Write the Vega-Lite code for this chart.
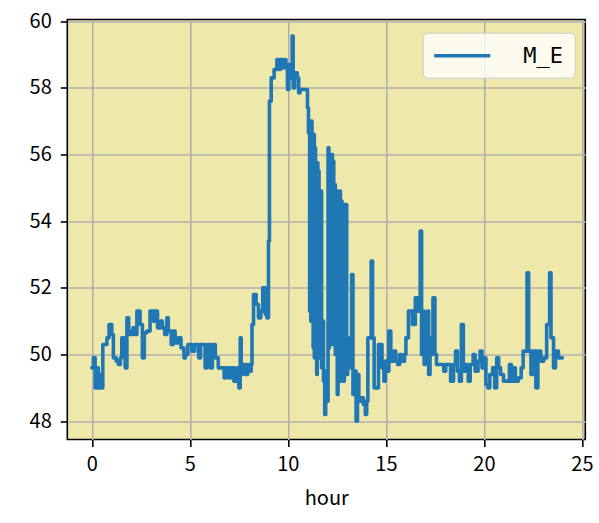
{
  "$schema": "https://vega.github.io/schema/vega-lite/v6.json",
  "width": 518,
  "height": 420,
  "autosize": "none",
  "padding": {"left": 67.3, "top": 19.5, "right": 14, "bottom": 84},
  "background": "white",
  "config": {
    "view": {"fill": "#EEE8AA", "stroke": "black", "strokeWidth": 1.6},
    "axis": {
      "domain": false,
      "grid": true,
      "gridColor": "#b0b0b0",
      "gridWidth": 1.6,
      "tickColor": "black",
      "tickWidth": 1.6,
      "tickSize": 7,
      "labelFont": "Noto Sans CJK JP",
      "labelFontSize": 20,
      "labelColor": "black",
      "titleFont": "Noto Sans CJK JP",
      "titleFontSize": 20,
      "titleFontWeight": "normal",
      "titleColor": "black"
    }
  },
  "data": {
    "values": [
      {"hour": 0.00, "value": 49.6, "series": "M_E"},
      {"hour": 0.08, "value": 49.9, "series": "M_E"},
      {"hour": 0.17, "value": 49.0, "series": "M_E"},
      {"hour": 0.28, "value": 49.6, "series": "M_E"},
      {"hour": 0.33, "value": 49.0, "series": "M_E"},
      {"hour": 0.42, "value": 49.4, "series": "M_E"},
      {"hour": 0.47, "value": 49.0, "series": "M_E"},
      {"hour": 0.56, "value": 50.3, "series": "M_E"},
      {"hour": 0.77, "value": 50.5, "series": "M_E"},
      {"hour": 0.88, "value": 50.9, "series": "M_E"},
      {"hour": 1.02, "value": 50.6, "series": "M_E"},
      {"hour": 1.10, "value": 49.9, "series": "M_E"},
      {"hour": 1.25, "value": 49.8, "series": "M_E"},
      {"hour": 1.36, "value": 49.7, "series": "M_E"},
      {"hour": 1.46, "value": 49.9, "series": "M_E"},
      {"hour": 1.53, "value": 50.5, "series": "M_E"},
      {"hour": 1.65, "value": 50.2, "series": "M_E"},
      {"hour": 1.70, "value": 49.6, "series": "M_E"},
      {"hour": 1.79, "value": 51.1, "series": "M_E"},
      {"hour": 1.88, "value": 50.7, "series": "M_E"},
      {"hour": 1.95, "value": 50.6, "series": "M_E"},
      {"hour": 2.10, "value": 50.8, "series": "M_E"},
      {"hour": 2.20, "value": 50.6, "series": "M_E"},
      {"hour": 2.30, "value": 51.3, "series": "M_E"},
      {"hour": 2.46, "value": 50.9, "series": "M_E"},
      {"hour": 2.58, "value": 49.9, "series": "M_E"},
      {"hour": 2.68, "value": 50.65, "series": "M_E"},
      {"hour": 2.80, "value": 50.7, "series": "M_E"},
      {"hour": 2.97, "value": 51.3, "series": "M_E"},
      {"hour": 3.15, "value": 51.0, "series": "M_E"},
      {"hour": 3.22, "value": 51.3, "series": "M_E"},
      {"hour": 3.35, "value": 50.8, "series": "M_E"},
      {"hour": 3.50, "value": 51.0, "series": "M_E"},
      {"hour": 3.60, "value": 50.8, "series": "M_E"},
      {"hour": 3.72, "value": 50.6, "series": "M_E"},
      {"hour": 3.83, "value": 51.1, "series": "M_E"},
      {"hour": 3.90, "value": 50.7, "series": "M_E"},
      {"hour": 4.05, "value": 50.3, "series": "M_E"},
      {"hour": 4.15, "value": 50.7, "series": "M_E"},
      {"hour": 4.25, "value": 50.35, "series": "M_E"},
      {"hour": 4.40, "value": 50.5, "series": "M_E"},
      {"hour": 4.55, "value": 50.2, "series": "M_E"},
      {"hour": 4.70, "value": 49.9, "series": "M_E"},
      {"hour": 4.78, "value": 50.0, "series": "M_E"},
      {"hour": 4.90, "value": 50.3, "series": "M_E"},
      {"hour": 5.10, "value": 50.1, "series": "M_E"},
      {"hour": 5.25, "value": 50.3, "series": "M_E"},
      {"hour": 5.45, "value": 49.9, "series": "M_E"},
      {"hour": 5.55, "value": 50.3, "series": "M_E"},
      {"hour": 5.78, "value": 49.6, "series": "M_E"},
      {"hour": 5.88, "value": 50.3, "series": "M_E"},
      {"hour": 6.05, "value": 49.6, "series": "M_E"},
      {"hour": 6.15, "value": 50.3, "series": "M_E"},
      {"hour": 6.30, "value": 49.9, "series": "M_E"},
      {"hour": 6.45, "value": 49.6, "series": "M_E"},
      {"hour": 6.75, "value": 49.3, "series": "M_E"},
      {"hour": 6.85, "value": 49.6, "series": "M_E"},
      {"hour": 7.00, "value": 49.3, "series": "M_E"},
      {"hour": 7.10, "value": 49.6, "series": "M_E"},
      {"hour": 7.25, "value": 49.2, "series": "M_E"},
      {"hour": 7.40, "value": 49.6, "series": "M_E"},
      {"hour": 7.50, "value": 49.0, "series": "M_E"},
      {"hour": 7.57, "value": 50.5, "series": "M_E"},
      {"hour": 7.62, "value": 49.4, "series": "M_E"},
      {"hour": 7.70, "value": 49.7, "series": "M_E"},
      {"hour": 7.85, "value": 49.4, "series": "M_E"},
      {"hour": 7.95, "value": 49.7, "series": "M_E"},
      {"hour": 8.05, "value": 49.5, "series": "M_E"},
      {"hour": 8.13, "value": 49.7, "series": "M_E"},
      {"hour": 8.17, "value": 50.9, "series": "M_E"},
      {"hour": 8.25, "value": 51.8, "series": "M_E"},
      {"hour": 8.38, "value": 51.5, "series": "M_E"},
      {"hour": 8.50, "value": 51.1, "series": "M_E"},
      {"hour": 8.62, "value": 51.3, "series": "M_E"},
      {"hour": 8.72, "value": 52.0, "series": "M_E"},
      {"hour": 8.85, "value": 51.2, "series": "M_E"},
      {"hour": 8.93, "value": 51.1, "series": "M_E"},
      {"hour": 9.01, "value": 53.4, "series": "M_E"},
      {"hour": 9.06, "value": 57.6, "series": "M_E"},
      {"hour": 9.15, "value": 58.3, "series": "M_E"},
      {"hour": 9.30, "value": 58.55, "series": "M_E"},
      {"hour": 9.44, "value": 58.85, "series": "M_E"},
      {"hour": 9.55, "value": 58.55, "series": "M_E"},
      {"hour": 9.62, "value": 58.85, "series": "M_E"},
      {"hour": 9.70, "value": 58.6, "series": "M_E"},
      {"hour": 9.78, "value": 58.85, "series": "M_E"},
      {"hour": 9.90, "value": 58.6, "series": "M_E"},
      {"hour": 9.98, "value": 57.95, "series": "M_E"},
      {"hour": 10.05, "value": 58.7, "series": "M_E"},
      {"hour": 10.15, "value": 58.3, "series": "M_E"},
      {"hour": 10.22, "value": 59.55, "series": "M_E"},
      {"hour": 10.27, "value": 58.0, "series": "M_E"},
      {"hour": 10.35, "value": 58.45, "series": "M_E"},
      {"hour": 10.48, "value": 58.3, "series": "M_E"},
      {"hour": 10.55, "value": 57.85, "series": "M_E"},
      {"hour": 10.62, "value": 57.95, "series": "M_E"},
      {"hour": 11.00, "value": 57.4, "series": "M_E"},
      {"hour": 11.05, "value": 56.65, "series": "M_E"},
      {"hour": 11.08, "value": 57.0, "series": "M_E"},
      {"hour": 11.11, "value": 51.3, "series": "M_E"},
      {"hour": 11.14, "value": 56.8, "series": "M_E"},
      {"hour": 11.17, "value": 51.0, "series": "M_E"},
      {"hour": 11.20, "value": 57.0, "series": "M_E"},
      {"hour": 11.23, "value": 51.2, "series": "M_E"},
      {"hour": 11.26, "value": 56.6, "series": "M_E"},
      {"hour": 11.29, "value": 50.2, "series": "M_E"},
      {"hour": 11.32, "value": 56.6, "series": "M_E"},
      {"hour": 11.35, "value": 49.9, "series": "M_E"},
      {"hour": 11.38, "value": 56.2, "series": "M_E"},
      {"hour": 11.41, "value": 50.5, "series": "M_E"},
      {"hour": 11.44, "value": 55.75, "series": "M_E"},
      {"hour": 11.47, "value": 49.4, "series": "M_E"},
      {"hour": 11.50, "value": 55.75, "series": "M_E"},
      {"hour": 11.53, "value": 50.0, "series": "M_E"},
      {"hour": 11.56, "value": 55.5, "series": "M_E"},
      {"hour": 11.59, "value": 49.9, "series": "M_E"},
      {"hour": 11.62, "value": 54.9, "series": "M_E"},
      {"hour": 11.65, "value": 49.9, "series": "M_E"},
      {"hour": 11.68, "value": 54.9, "series": "M_E"},
      {"hour": 11.72, "value": 49.6, "series": "M_E"},
      {"hour": 11.76, "value": 51.0, "series": "M_E"},
      {"hour": 11.82, "value": 49.2, "series": "M_E"},
      {"hour": 11.88, "value": 48.2, "series": "M_E"},
      {"hour": 11.93, "value": 49.5, "series": "M_E"},
      {"hour": 12.00, "value": 48.6, "series": "M_E"},
      {"hour": 12.05, "value": 56.2, "series": "M_E"},
      {"hour": 12.09, "value": 50.2, "series": "M_E"},
      {"hour": 12.12, "value": 56.0, "series": "M_E"},
      {"hour": 12.15, "value": 50.3, "series": "M_E"},
      {"hour": 12.18, "value": 55.5, "series": "M_E"},
      {"hour": 12.21, "value": 51.0, "series": "M_E"},
      {"hour": 12.24, "value": 56.0, "series": "M_E"},
      {"hour": 12.27, "value": 50.3, "series": "M_E"},
      {"hour": 12.30, "value": 55.8, "series": "M_E"},
      {"hour": 12.34, "value": 50.5, "series": "M_E"},
      {"hour": 12.38, "value": 55.1, "series": "M_E"},
      {"hour": 12.42, "value": 50.0, "series": "M_E"},
      {"hour": 12.46, "value": 54.9, "series": "M_E"},
      {"hour": 12.52, "value": 48.8, "series": "M_E"},
      {"hour": 12.56, "value": 54.9, "series": "M_E"},
      {"hour": 12.60, "value": 49.5, "series": "M_E"},
      {"hour": 12.64, "value": 54.9, "series": "M_E"},
      {"hour": 12.68, "value": 49.2, "series": "M_E"},
      {"hour": 12.72, "value": 54.6, "series": "M_E"},
      {"hour": 12.76, "value": 49.6, "series": "M_E"},
      {"hour": 12.80, "value": 54.5, "series": "M_E"},
      {"hour": 12.84, "value": 49.2, "series": "M_E"},
      {"hour": 12.88, "value": 54.5, "series": "M_E"},
      {"hour": 12.92, "value": 49.8, "series": "M_E"},
      {"hour": 12.96, "value": 54.5, "series": "M_E"},
      {"hour": 13.00, "value": 49.4, "series": "M_E"},
      {"hour": 13.05, "value": 50.5, "series": "M_E"},
      {"hour": 13.10, "value": 49.6, "series": "M_E"},
      {"hour": 13.18, "value": 50.2, "series": "M_E"},
      {"hour": 13.25, "value": 52.4, "series": "M_E"},
      {"hour": 13.32, "value": 48.8, "series": "M_E"},
      {"hour": 13.40, "value": 49.5, "series": "M_E"},
      {"hour": 13.48, "value": 48.0, "series": "M_E"},
      {"hour": 13.55, "value": 49.4, "series": "M_E"},
      {"hour": 13.62, "value": 48.6, "series": "M_E"},
      {"hour": 13.75, "value": 48.7, "series": "M_E"},
      {"hour": 13.85, "value": 48.5, "series": "M_E"},
      {"hour": 13.95, "value": 48.2, "series": "M_E"},
      {"hour": 14.02, "value": 48.6, "series": "M_E"},
      {"hour": 14.08, "value": 50.5, "series": "M_E"},
      {"hour": 14.25, "value": 52.8, "series": "M_E"},
      {"hour": 14.32, "value": 50.5, "series": "M_E"},
      {"hour": 14.40, "value": 49.0, "series": "M_E"},
      {"hour": 14.62, "value": 50.3, "series": "M_E"},
      {"hour": 14.80, "value": 49.6, "series": "M_E"},
      {"hour": 14.90, "value": 49.2, "series": "M_E"},
      {"hour": 14.97, "value": 49.8, "series": "M_E"},
      {"hour": 15.05, "value": 49.5, "series": "M_E"},
      {"hour": 15.15, "value": 50.7, "series": "M_E"},
      {"hour": 15.25, "value": 49.8, "series": "M_E"},
      {"hour": 15.40, "value": 50.1, "series": "M_E"},
      {"hour": 15.50, "value": 49.8, "series": "M_E"},
      {"hour": 15.60, "value": 49.7, "series": "M_E"},
      {"hour": 15.70, "value": 50.0, "series": "M_E"},
      {"hour": 15.80, "value": 49.8, "series": "M_E"},
      {"hour": 15.95, "value": 50.0, "series": "M_E"},
      {"hour": 16.02, "value": 50.5, "series": "M_E"},
      {"hour": 16.15, "value": 51.3, "series": "M_E"},
      {"hour": 16.35, "value": 50.9, "series": "M_E"},
      {"hour": 16.50, "value": 51.7, "series": "M_E"},
      {"hour": 16.62, "value": 51.3, "series": "M_E"},
      {"hour": 16.75, "value": 53.7, "series": "M_E"},
      {"hour": 16.82, "value": 50.0, "series": "M_E"},
      {"hour": 16.88, "value": 51.3, "series": "M_E"},
      {"hour": 16.95, "value": 49.7, "series": "M_E"},
      {"hour": 17.00, "value": 51.0, "series": "M_E"},
      {"hour": 17.07, "value": 50.2, "series": "M_E"},
      {"hour": 17.12, "value": 51.3, "series": "M_E"},
      {"hour": 17.18, "value": 49.4, "series": "M_E"},
      {"hour": 17.25, "value": 50.5, "series": "M_E"},
      {"hour": 17.32, "value": 50.0, "series": "M_E"},
      {"hour": 17.40, "value": 51.7, "series": "M_E"},
      {"hour": 17.50, "value": 50.0, "series": "M_E"},
      {"hour": 17.58, "value": 49.7, "series": "M_E"},
      {"hour": 17.95, "value": 49.5, "series": "M_E"},
      {"hour": 18.05, "value": 49.7, "series": "M_E"},
      {"hour": 18.30, "value": 49.2, "series": "M_E"},
      {"hour": 18.45, "value": 49.7, "series": "M_E"},
      {"hour": 18.55, "value": 50.1, "series": "M_E"},
      {"hour": 18.65, "value": 49.5, "series": "M_E"},
      {"hour": 18.75, "value": 49.2, "series": "M_E"},
      {"hour": 18.85, "value": 50.9, "series": "M_E"},
      {"hour": 18.95, "value": 49.5, "series": "M_E"},
      {"hour": 19.05, "value": 49.7, "series": "M_E"},
      {"hour": 19.20, "value": 49.2, "series": "M_E"},
      {"hour": 19.30, "value": 49.7, "series": "M_E"},
      {"hour": 19.45, "value": 50.0, "series": "M_E"},
      {"hour": 19.55, "value": 49.5, "series": "M_E"},
      {"hour": 19.70, "value": 49.8, "series": "M_E"},
      {"hour": 19.80, "value": 50.1, "series": "M_E"},
      {"hour": 19.90, "value": 49.6, "series": "M_E"},
      {"hour": 20.00, "value": 49.9, "series": "M_E"},
      {"hour": 20.10, "value": 49.1, "series": "M_E"},
      {"hour": 20.20, "value": 49.0, "series": "M_E"},
      {"hour": 20.30, "value": 49.4, "series": "M_E"},
      {"hour": 20.45, "value": 49.6, "series": "M_E"},
      {"hour": 20.55, "value": 49.0, "series": "M_E"},
      {"hour": 20.65, "value": 49.9, "series": "M_E"},
      {"hour": 20.75, "value": 49.6, "series": "M_E"},
      {"hour": 20.85, "value": 49.4, "series": "M_E"},
      {"hour": 21.00, "value": 49.2, "series": "M_E"},
      {"hour": 21.30, "value": 49.7, "series": "M_E"},
      {"hour": 21.40, "value": 49.2, "series": "M_E"},
      {"hour": 21.50, "value": 49.6, "series": "M_E"},
      {"hour": 21.60, "value": 49.2, "series": "M_E"},
      {"hour": 21.75, "value": 49.3, "series": "M_E"},
      {"hour": 21.90, "value": 49.6, "series": "M_E"},
      {"hour": 22.00, "value": 50.1, "series": "M_E"},
      {"hour": 22.20, "value": 52.45, "series": "M_E"},
      {"hour": 22.28, "value": 50.1, "series": "M_E"},
      {"hour": 22.40, "value": 49.4, "series": "M_E"},
      {"hour": 22.50, "value": 50.1, "series": "M_E"},
      {"hour": 22.65, "value": 49.0, "series": "M_E"},
      {"hour": 22.75, "value": 50.1, "series": "M_E"},
      {"hour": 22.90, "value": 49.8, "series": "M_E"},
      {"hour": 23.05, "value": 49.9, "series": "M_E"},
      {"hour": 23.20, "value": 50.9, "series": "M_E"},
      {"hour": 23.35, "value": 52.45, "series": "M_E"},
      {"hour": 23.42, "value": 50.5, "series": "M_E"},
      {"hour": 23.55, "value": 49.6, "series": "M_E"},
      {"hour": 23.65, "value": 50.1, "series": "M_E"},
      {"hour": 23.80, "value": 49.9, "series": "M_E"},
      {"hour": 24.00, "value": 49.9, "series": "M_E"}
    ]
  },
  "mark": {"type": "line", "interpolate": "step-after", "strokeWidth": 3.6, "strokeCap": "round", "strokeJoin": "round"},
  "encoding": {
    "x": {
      "field": "hour", "type": "quantitative", "title": "hour",
      "scale": {"domain": [-1.25, 25.17], "nice": false, "zero": false},
      "axis": {"values": [0, 5, 10, 15, 20, 25], "labelPadding": 8, "titlePadding": 14}
    },
    "y": {
      "field": "value", "type": "quantitative", "title": null,
      "scale": {"domain": [47.45, 60.05], "nice": false, "zero": false},
      "axis": {"values": [48, 50, 52, 54, 56, 58, 60], "labelPadding": 9}
    },
    "color": {
      "field": "series", "type": "nominal",
      "scale": {"range": ["#1f77b4"]},
      "legend": {
        "title": null,
        "orient": "none",
        "legendX": 355.4,
        "legendY": 13.2,
        "padding": 11,
        "fillColor": "rgba(255,255,255,0.8)",
        "strokeColor": "#cccccc",
        "cornerRadius": 5,
        "symbolType": "M-2.8,0H2.8",
        "symbolSize": 400,
        "symbolStrokeWidth": 3.4,
        "symbolOffset": 16.5,
        "labelOffset": 49,
        "labelFont": "DejaVu Sans Mono",
        "labelFontSize": 22,
        "labelColor": "black"
      }
    }
  }
}
